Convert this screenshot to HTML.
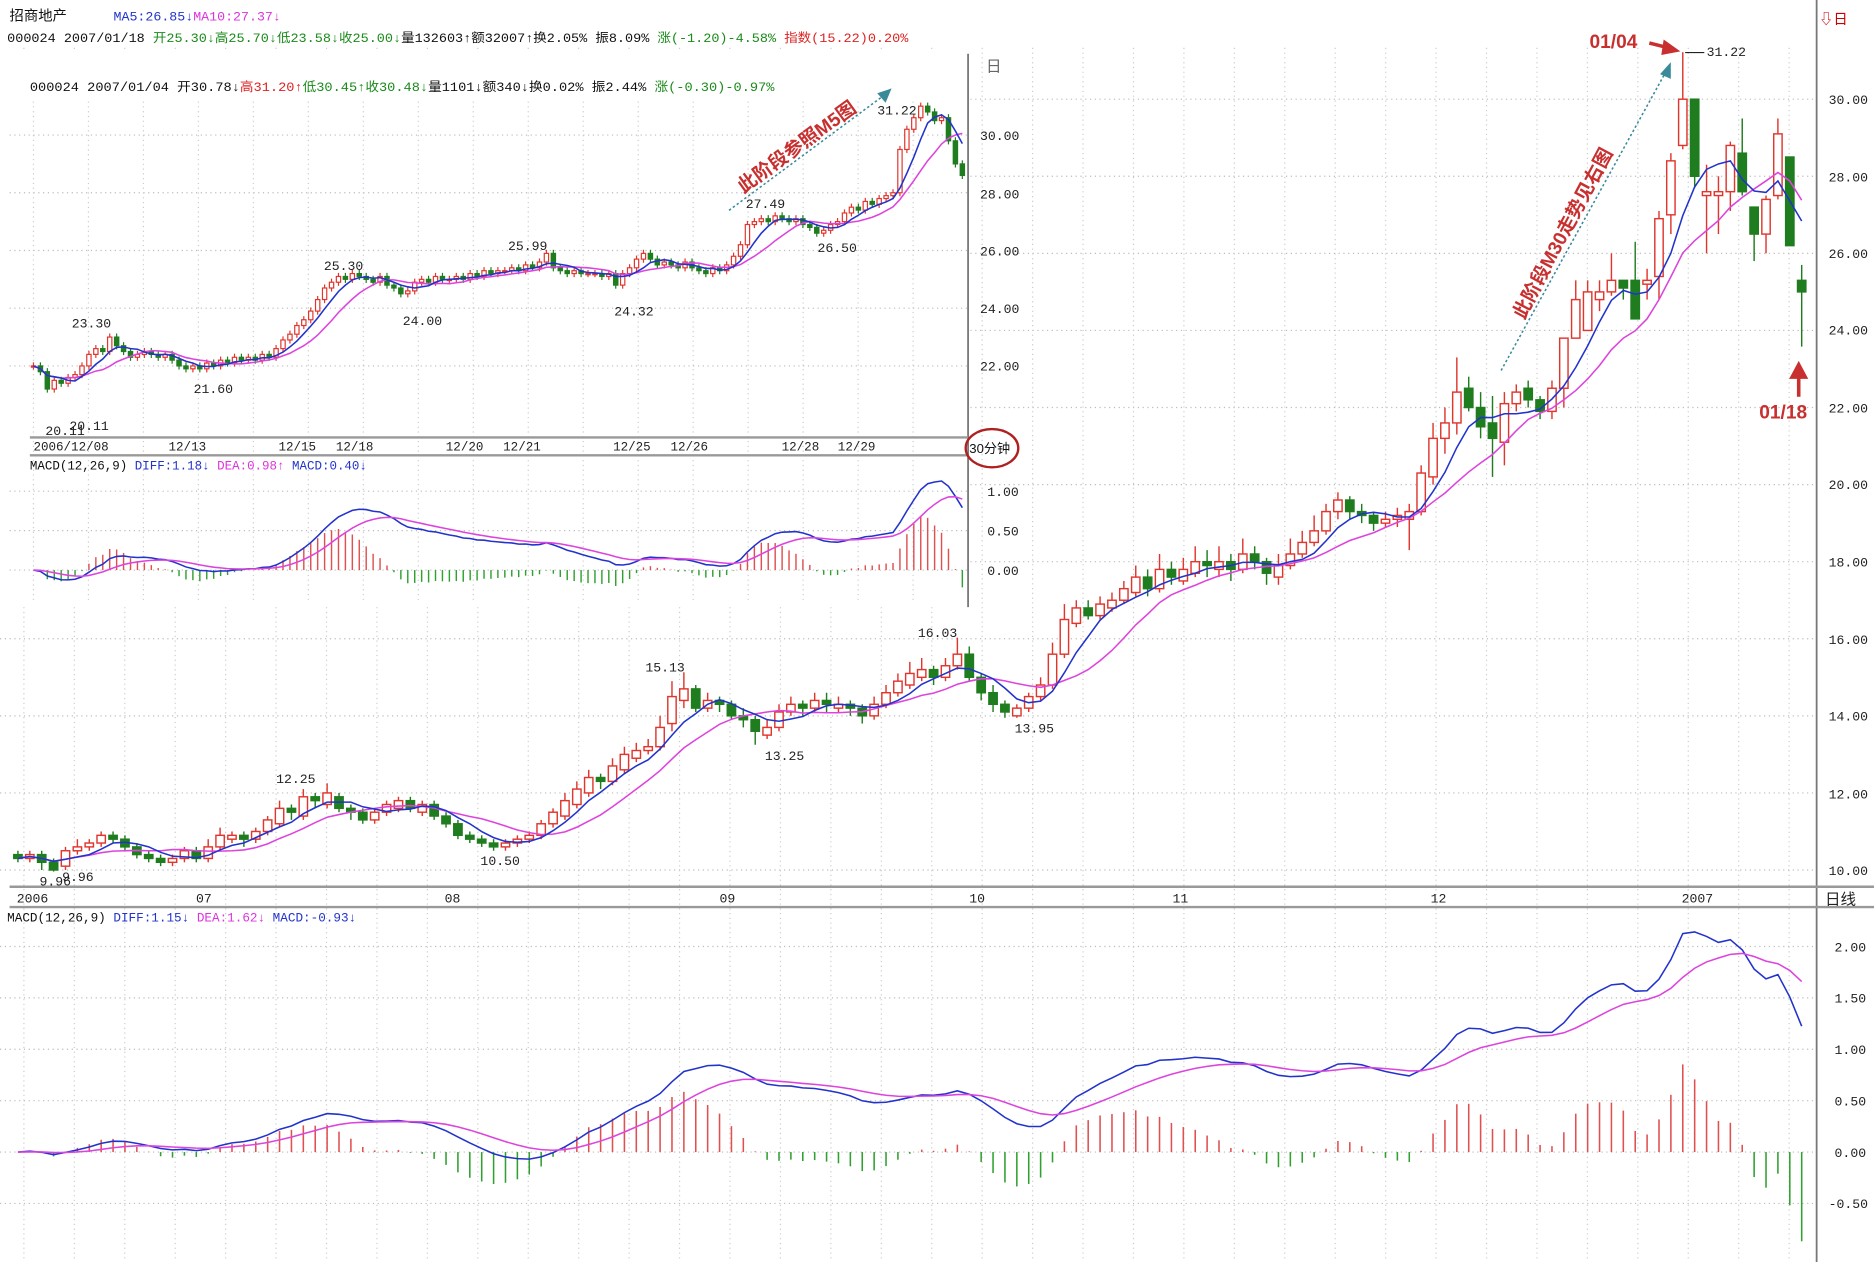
<!DOCTYPE html>
<html><head><meta charset="utf-8"><style>
html,body{margin:0;padding:0;background:#fff;}
svg{display:block;font-family:"Liberation Mono","Noto Sans CJK SC",monospace;}
</style></head><body>
<svg id="chart" width="1874" height="1262" viewBox="0 0 1568 1056" preserveAspectRatio="none" xmlns="http://www.w3.org/2000/svg">
<rect x="0" y="0" width="1568" height="1056" fill="#fff"/>
<g id="mainGrid"></g>
<g id="mainCandles"></g>
<g id="mainMA"></g>
<g id="mainMacd"></g>

<!-- main axes -->
<line x1="1520" y1="0" x2="1520" y2="1056" stroke="#777" stroke-width="1.5"/>
<line x1="8" y1="742" x2="1568" y2="742" stroke="#999" stroke-width="2"/>
<line x1="8" y1="759" x2="1568" y2="759" stroke="#999" stroke-width="2"/>
<g font-size="11" fill="#222">
<text x="1530" y="87">30.00</text><text x="1530" y="152">28.00</text><text x="1530" y="216">26.00</text><text x="1530" y="280">24.00</text><text x="1530" y="345">22.00</text><text x="1530" y="409">20.00</text><text x="1530" y="474">18.00</text><text x="1530" y="539">16.00</text><text x="1530" y="603">14.00</text><text x="1530" y="668">12.00</text><text x="1530" y="732">10.00</text>
</g>
<g font-size="11" fill="#222">
<text x="14" y="755">2006</text><text x="164" y="755">07</text><text x="372" y="755">08</text><text x="602" y="755">09</text><text x="811" y="755">10</text><text x="981" y="755">11</text><text x="1197" y="755">12</text><text x="1407" y="755">2007</text>
<text x="1527" y="757" font-size="13" font-family="Liberation Sans,Noto Sans CJK SC,sans-serif">日线</text>
</g>
<g font-size="11" fill="#222">
<text x="1535" y="796">2.00</text><text x="1535" y="839">1.50</text><text x="1535" y="882">1.00</text><text x="1535" y="925">0.50</text><text x="1535" y="968">0.00</text><text x="1530" y="1011">-0.50</text>
</g>
<text x="6" y="771" font-size="10.5" textLength="292" lengthAdjust="spacingAndGlyphs"><tspan fill="#111">MACD(12,26,9) </tspan><tspan fill="#2233cc">DIFF:1.15↓ </tspan><tspan fill="#dd33dd">DEA:1.62↓ </tspan><tspan fill="#2233cc">MACD:-0.93↓</tspan></text>

<!-- header -->
<text x="8" y="17" font-size="12" fill="#111" font-family="Liberation Sans,Noto Sans CJK SC,sans-serif">招商地产</text>
<text x="95" y="17" font-size="10.5" textLength="140" lengthAdjust="spacingAndGlyphs"><tspan fill="#2233cc">MA5:26.85↓</tspan><tspan fill="#dd33dd">MA10:27.37↓</tspan></text>
<text x="6" y="35" font-size="10.5" textLength="754" lengthAdjust="spacingAndGlyphs"><tspan fill="#111">000024 2007/01/18 </tspan><tspan fill="#1a8a1a">开25.30↓高25.70↓低23.58↓收25.00↓</tspan><tspan fill="#111">量132603↑额32007↑换2.05% 振8.09% </tspan><tspan fill="#1a8a1a">涨(-1.20)-4.58% </tspan><tspan fill="#dd2222">指数(15.22)0.20%</tspan></text>
<text x="1522" y="20" font-size="12" fill="#c00">⇩日</text>

<!-- inset -->
<rect x="0" y="42" width="812" height="466" fill="#fff"/>
<g id="insetGrid"></g>
<g id="insetCandles"></g>
<g id="insetMA"></g>
<g id="insetMacd"></g>
<line x1="810" y1="45" x2="810" y2="508" stroke="#777" stroke-width="1.5"/>
<line x1="25" y1="366" x2="810" y2="366" stroke="#999" stroke-width="2"/>
<line x1="25" y1="381" x2="810" y2="381" stroke="#999" stroke-width="2"/>
<text x="825" y="60" font-size="13" fill="#666">日</text>
<text x="25" y="76" font-size="10.5" textLength="623" lengthAdjust="spacingAndGlyphs"><tspan fill="#111">000024 2007/01/04 开30.78↓</tspan><tspan fill="#dd2222">高31.20↑</tspan><tspan fill="#1a8a1a">低30.45↑收30.48↓</tspan><tspan fill="#111">量1101↓额340↓换0.02% 振2.44% </tspan><tspan fill="#1a8a1a">涨(-0.30)-0.97%</tspan></text>
<g font-size="11" fill="#222">
<text x="820" y="117">30.00</text><text x="820" y="166">28.00</text><text x="820" y="214">26.00</text><text x="820" y="262">24.00</text><text x="820" y="310">22.00</text>
</g>
<g font-size="10.5" fill="#222">
<text x="28" y="377">2006/12/08</text><text x="141" y="377">12/13</text><text x="233" y="377">12/15</text><text x="281" y="377">12/18</text><text x="373" y="377">12/20</text><text x="421" y="377">12/21</text><text x="513" y="377">12/25</text><text x="561" y="377">12/26</text><text x="654" y="377">12/28</text><text x="701" y="377">12/29</text>
</g>
<text x="811" y="379" font-size="11" fill="#111" font-family="Liberation Sans,Noto Sans CJK SC,sans-serif">30分钟</text>
<ellipse cx="830" cy="375" rx="22" ry="16" fill="none" stroke="#b02020" stroke-width="2"/>
<g font-size="11" fill="#222">
<text x="826" y="415">1.00</text><text x="826" y="448">0.50</text><text x="826" y="481">0.00</text>
</g>
<text x="25" y="393" font-size="10.5" textLength="282" lengthAdjust="spacingAndGlyphs"><tspan fill="#111">MACD(12,26,9) </tspan><tspan fill="#2233cc">DIFF:1.18↓ </tspan><tspan fill="#dd33dd">DEA:0.98↑ </tspan><tspan fill="#2233cc">MACD:0.40↓</tspan></text>

<!-- inset point labels -->
<g font-size="11" fill="#222">
<text x="60" y="274">23.30</text><text x="38" y="364">20.11</text><text x="58" y="360">20.11</text><text x="162" y="329">21.60</text><text x="271" y="226">25.30</text><text x="337" y="272">24.00</text><text x="425" y="209">25.99</text><text x="514" y="264">24.32</text><text x="624" y="174">27.49</text><text x="684" y="211">26.50</text><text x="734" y="96">31.22</text>
</g>
<!-- main point labels -->
<g font-size="11" fill="#222">
<text x="33" y="741">9.96</text><text x="52" y="737">9.96</text><text x="231" y="655">12.25</text><text x="402" y="724">10.50</text><text x="540" y="562">15.13</text><text x="640" y="636">13.25</text><text x="768" y="533">16.03</text><text x="849" y="613">13.95</text>
<text x="1428" y="47">31.22</text>
</g>
<line x1="1410" y1="44" x2="1426" y2="44" stroke="#222"/>

<!-- annotations -->
<line x1="610" y1="176" x2="742" y2="78" stroke="#3a8a9a" stroke-width="1.3" stroke-dasharray="2,2"/>
<polygon points="746,74 734,78 741,86" fill="#3a8a9a"/>
<text x="0" y="0" font-size="16" font-weight="bold" fill="#c83030" transform="translate(622,162) rotate(-36)" font-family="Liberation Sans,Noto Sans CJK SC,sans-serif">此阶段参照M5图</text>
<line x1="1256" y1="310" x2="1395" y2="58" stroke="#3a8a9a" stroke-width="1.3" stroke-dasharray="2,2"/>
<polygon points="1398,52 1389,62 1398,66" fill="#3a8a9a"/>
<text x="0" y="0" font-size="16" font-weight="bold" fill="#c83030" transform="translate(1275,268) rotate(-62)" font-family="Liberation Sans,Noto Sans CJK SC,sans-serif">此阶段M30走势见右图</text>
<text x="1330" y="40" font-size="16" font-weight="bold" fill="#c83030" font-family="Liberation Sans,sans-serif">01/04</text>
<line x1="1380" y1="36" x2="1396" y2="40" stroke="#c83030" stroke-width="3"/>
<polygon points="1406,43 1392,33 1390,46" fill="#c83030"/>
<text x="1472" y="350" font-size="16" font-weight="bold" fill="#c83030" font-family="Liberation Sans,sans-serif">01/18</text>
<line x1="1505" y1="316" x2="1505" y2="332" stroke="#c83030" stroke-width="3"/>
<polygon points="1505,302 1497,317 1513,317" fill="#c83030"/>
</svg>
<script>
// ---- main daily data ----
const mainClose=[10.3,10.4,10.2,10.0,10.5,10.6,10.7,10.9,10.8,10.6,
10.4,10.3,10.2,10.3,10.5,10.3,10.6,10.9,10.9,10.8,
11.0,11.3,11.6,11.5,11.9,11.8,12.0,11.6,11.5,11.3,
11.5,11.7,11.8,11.6,11.7,11.4,11.2,10.9,10.8,10.7,
10.6,10.7,10.8,10.9,11.2,11.5,11.8,12.1,12.4,12.3,
12.7,13.0,13.1,13.2,13.7,14.5,14.7,14.2,14.4,14.3,
14.0,13.9,13.6,13.7,14.1,14.3,14.2,14.4,14.3,14.3,
14.2,14.0,14.3,14.6,14.9,15.1,15.2,15.0,15.3,15.6,
15.0,14.6,14.3,14.1,14.2,14.5,14.8,15.6,16.5,16.8,
16.6,16.9,17.0,17.3,17.6,17.3,17.8,17.6,17.8,18.0,
17.9,18.0,17.8,18.2,18.0,17.7,17.9,18.2,18.5,18.8,
19.3,19.6,19.3,19.2,19.0,19.1,19.2,19.3,20.3,21.2,
21.6,22.4,22.0,21.5,21.2,22.1,22.4,22.2,21.9,22.5,
23.8,24.8,25.0,25.0,25.3,25.1,24.3,25.3,26.9,28.4,
30.0,28.0,27.6,27.6,28.8,27.6,26.5,27.4,29.1,26.2,25.0];
const mainOpen=[10.4,10.3,10.4,10.2,10.1,10.5,10.6,10.7,10.9,10.8,
10.6,10.4,10.3,10.2,10.3,10.5,10.3,10.6,10.8,10.9,
10.8,11.0,11.2,11.6,11.4,11.9,11.7,11.9,11.6,11.5,
11.3,11.5,11.6,11.8,11.5,11.7,11.4,11.2,10.9,10.8,
10.7,10.6,10.7,10.8,10.9,11.2,11.4,11.7,12.0,12.4,
12.3,12.6,12.9,13.1,13.2,13.8,14.4,14.7,14.2,14.4,
14.3,14.0,13.9,13.5,13.7,14.1,14.3,14.2,14.4,14.2,
14.3,14.2,14.0,14.3,14.6,14.8,15.0,15.2,15.0,15.3,
15.6,15.0,14.6,14.3,14.0,14.2,14.5,14.8,15.6,16.4,
16.8,16.6,16.8,17.0,17.2,17.6,17.3,17.8,17.5,17.7,
18.0,17.8,18.0,17.8,18.2,18.0,17.6,17.9,18.2,18.5,
18.8,19.3,19.6,19.3,19.2,19.0,19.1,19.1,19.3,20.2,
21.2,21.6,22.5,22.0,21.6,21.1,22.1,22.5,22.2,21.9,
22.5,23.8,24.0,24.8,25.0,25.3,25.3,25.2,25.4,27.0,
28.8,30.0,27.5,27.5,27.6,28.6,27.2,26.5,27.5,28.5,25.3];
const mainHigh=[10.5,10.5,10.5,10.3,10.6,10.8,10.8,11.0,11.0,10.9,
10.7,10.5,10.4,10.4,10.6,10.6,10.8,11.1,11.0,11.0,
11.1,11.4,11.8,11.7,12.1,12.0,12.25,12.0,11.7,11.6,
11.6,11.8,11.9,11.9,11.8,11.8,11.5,11.3,11.0,10.9,
10.8,10.8,10.9,11.0,11.3,11.6,12.0,12.3,12.6,12.5,
12.9,13.2,13.3,13.4,14.0,14.9,15.13,14.8,14.6,14.5,
14.4,14.2,14.0,13.9,14.3,14.5,14.4,14.6,14.6,14.5,
14.4,14.3,14.5,14.8,15.1,15.4,15.5,15.3,15.5,16.03,
15.8,15.1,14.8,14.4,14.3,14.6,15.0,15.9,16.9,17.0,
17.0,17.1,17.2,17.5,17.9,17.8,18.2,18.0,18.1,18.4,
18.3,18.4,18.2,18.6,18.4,18.1,18.2,18.6,18.8,19.2,
19.5,19.8,19.7,19.5,19.3,19.3,19.4,19.5,20.5,21.6,
22.0,23.3,22.8,22.4,22.3,22.4,22.6,22.7,22.3,22.7,
23.8,25.3,25.3,25.3,26.0,25.3,26.3,25.6,27.1,28.6,
31.22,30.0,28.3,28.0,28.9,29.5,27.2,27.5,29.5,28.5,25.7];
const mainLow=[10.2,10.2,10.0,9.96,10.0,10.4,10.5,10.6,10.7,10.5,
10.3,10.2,10.1,10.1,10.2,10.2,10.2,10.5,10.7,10.6,
10.7,10.9,11.1,11.3,11.3,11.6,11.6,11.5,11.3,11.2,
11.2,11.4,11.5,11.5,11.4,11.3,11.1,10.8,10.7,10.6,
10.5,10.5,10.6,10.7,10.8,11.1,11.3,11.6,11.9,12.1,
12.2,12.5,12.8,13.0,13.1,13.6,14.2,14.1,14.1,14.1,
13.9,13.7,13.25,13.4,13.6,14.0,14.0,14.1,14.1,14.1,
14.0,13.8,13.9,14.2,14.5,14.7,14.9,14.8,14.9,15.2,
14.9,14.4,14.1,13.95,13.95,14.1,14.4,14.7,15.5,16.3,
16.5,16.5,16.7,16.9,17.1,17.1,17.2,17.4,17.4,17.6,
17.6,17.6,17.5,17.7,17.8,17.4,17.4,17.8,18.1,18.4,
18.7,19.1,19.1,19.0,18.8,18.9,18.9,18.3,19.2,20.0,
20.8,21.3,21.9,21.2,20.2,20.5,21.9,22.0,21.7,21.7,
22.0,23.8,24.0,24.5,24.9,24.8,24.3,24.8,24.8,26.5,
28.7,27.7,26.0,26.5,27.1,27.5,25.8,26.0,27.4,26.2,23.58];
// ---- inset 30-minute closes ----
const insetClose=[22.0,21.8,21.2,21.5,21.4,21.6,21.7,22.0,22.4,22.6,
22.5,23.0,22.7,22.5,22.3,22.4,22.5,22.4,22.3,22.4,
22.2,22.0,21.9,22.0,21.9,22.1,22.0,22.2,22.1,22.3,
22.2,22.3,22.2,22.4,22.3,22.6,22.9,23.1,23.4,23.6,
23.9,24.3,24.7,24.9,25.1,25.0,25.2,25.1,25.0,24.9,
25.1,24.8,24.7,24.5,24.6,24.9,25.0,24.9,25.1,25.0,
25.0,25.1,25.0,25.2,25.1,25.3,25.2,25.3,25.3,25.4,
25.3,25.5,25.4,25.6,25.9,25.4,25.3,25.2,25.3,25.2,
25.2,25.2,25.1,25.2,24.8,25.2,25.4,25.7,25.9,25.7,
25.5,25.6,25.5,25.4,25.6,25.4,25.3,25.2,25.4,25.3,
25.5,25.8,26.2,26.9,27.0,27.1,27.0,27.2,27.1,27.0,
27.1,26.9,26.8,26.6,26.7,26.9,27.0,27.3,27.5,27.4,
27.7,27.6,27.8,27.9,28.0,29.5,30.2,30.6,31.0,30.8,
30.5,30.6,29.8,29.0,28.6];

const NS='http://www.w3.org/2000/svg';
function mk(parent,tag,attrs){const e=document.createElementNS(NS,tag);for(const k in attrs)e.setAttribute(k,attrs[k]);parent.appendChild(e);return e;}
const RED='#e0362e',GREEN='#1f7d1f',BLUE='#2233cc',MAG='#dd44dd';

// scales
const mx=i=>15+i*9.95, my=p=>83+(30-p)*32.25, mmy=v=>964-v*86;
const ix=i=>28+i*5.8, iy=p=>113+(30-p)*24.15, imy=v=>477-v*66;

function ma(arr,n){return arr.map((_,i)=>{const s=arr.slice(Math.max(0,i-n+1),i+1);return s.reduce((a,b)=>a+b,0)/s.length;});}
function ema(arr,n){const k=2/(n+1);let out=[],e=arr[0];arr.forEach((v,i)=>{e=i?e+k*(v-e):v;out.push(e);});return out;}
function macd(arr){const e12=ema(arr,12),e26=ema(arr,26);const d=e12.map((v,i)=>v-e26[i]);const dea=ema(d,9);return {d,dea,h:d.map((v,i)=>2*(v-dea[i]))};}
function pathOf(vals,fx,fy){return vals.map((v,i)=>(i?'L':'M')+fx(i).toFixed(1)+','+fy(v).toFixed(1)).join('');}

// grids
const mg=document.getElementById('mainGrid');
[30,28,26,24,22,20,18,16,14,12,10].forEach(p=>{const l=mk(mg,'line',{x1:0,x2:1520,y1:my(p),y2:my(p),stroke:'#bbb','stroke-dasharray':'1,3'});

});
[2,1.5,1,0.5,0,-0.5].forEach(v=>{const l=mk(mg,'line',{x1:0,x2:1520,y1:mmy(v),y2:mmy(v),stroke:'#bbb','stroke-dasharray':'1,3'});

});
for(let x=20;x<1520;x+=42.2){const l=mk(mg,'line',{x1:x,x2:x,y1:40,y2:1056,stroke:'#ccc','stroke-dasharray':'1,3'});

}

// main candles
const mc=document.getElementById('mainCandles');
mainClose.forEach((c,i)=>{const o=mainOpen[i],up=c>=o,col=up?RED:GREEN,x=mx(i);
const w=mk(mc,'line',{x1:x,x2:x,y1:my(mainHigh[i]),y2:my(mainLow[i]),stroke:col,'stroke-width':1.2});


const top=my(Math.max(o,c)),h=Math.max(1.2,Math.abs(my(o)-my(c)));
const b=mk(mc,'rect',{x:x-3.5,y:top,width:7,height:h,fill:up?'#fff':col,stroke:col,'stroke-width':1.2});

});
const mm=document.getElementById('mainMA');
const p10=mk(mm,'path',{d:pathOf(ma(mainClose,10),mx,my),fill:'none',stroke:MAG,'stroke-width':1.3});


const p5=mk(mm,'path',{d:pathOf(ma(mainClose,5),mx,my),fill:'none',stroke:BLUE,'stroke-width':1.3});



// main macd
const mq=document.getElementById('mainMacd'),M=macd(mainClose);
M.h.forEach((v,i)=>{const l=mk(mq,'line',{x1:mx(i),x2:mx(i),y1:mmy(0),y2:mmy(v),stroke:v>=0?'#e05050':'#30a030','stroke-width':1.3});

});
const md=mk(mq,'path',{d:pathOf(M.d,mx,mmy),fill:'none',stroke:BLUE,'stroke-width':1.3});


const me=mk(mq,'path',{d:pathOf(M.dea,mx,mmy),fill:'none',stroke:MAG,'stroke-width':1.3});



// inset grid
const ig=document.getElementById('insetGrid');
[30,28,26,24,22].forEach(p=>{const l=mk(ig,'line',{x1:8,x2:810,y1:iy(p),y2:iy(p),stroke:'#bbb','stroke-dasharray':'1,3'});

});
[1,0.5,0].forEach(v=>{const l=mk(ig,'line',{x1:8,x2:810,y1:imy(v),y2:imy(v),stroke:'#bbb','stroke-dasharray':'1,3'});

});
for(let x=28;x<810;x+=46){const l=mk(ig,'line',{x1:x,x2:x,y1:85,y2:505,stroke:'#ccc','stroke-dasharray':'1,3'});

}

// inset candles
const ic=document.getElementById('insetCandles');
insetClose.forEach((c,i)=>{const o=i?insetClose[i-1]:c,up=c>=o,col=up?RED:GREEN,x=ix(i);
const w=mk(ic,'line',{x1:x,x2:x,y1:iy(Math.max(o,c))-3,y2:iy(Math.min(o,c))+3,stroke:col,'stroke-width':1});


const b=mk(ic,'rect',{x:x-1.8,y:iy(Math.max(o,c)),width:3.6,height:Math.max(1,Math.abs(iy(o)-iy(c))),fill:up?'#fff':col,stroke:col,'stroke-width':1});

});
const im=document.getElementById('insetMA');
const i10=mk(im,'path',{d:pathOf(ma(insetClose,10),ix,iy),fill:'none',stroke:MAG,'stroke-width':1.3});


const i5=mk(im,'path',{d:pathOf(ma(insetClose,5),ix,iy),fill:'none',stroke:BLUE,'stroke-width':1.3});


const iq=document.getElementById('insetMacd'),I=macd(insetClose);
I.h.forEach((v,i)=>{const l=mk(iq,'line',{x1:ix(i),x2:ix(i),y1:imy(0),y2:imy(v),stroke:v>=0?'#e05050':'#30a030','stroke-width':1.2});

});
const idl=mk(iq,'path',{d:pathOf(I.d,ix,imy),fill:'none',stroke:BLUE,'stroke-width':1.3});


const iel=mk(iq,'path',{d:pathOf(I.dea,ix,imy),fill:'none',stroke:MAG,'stroke-width':1.3});


</script>
</body></html>
